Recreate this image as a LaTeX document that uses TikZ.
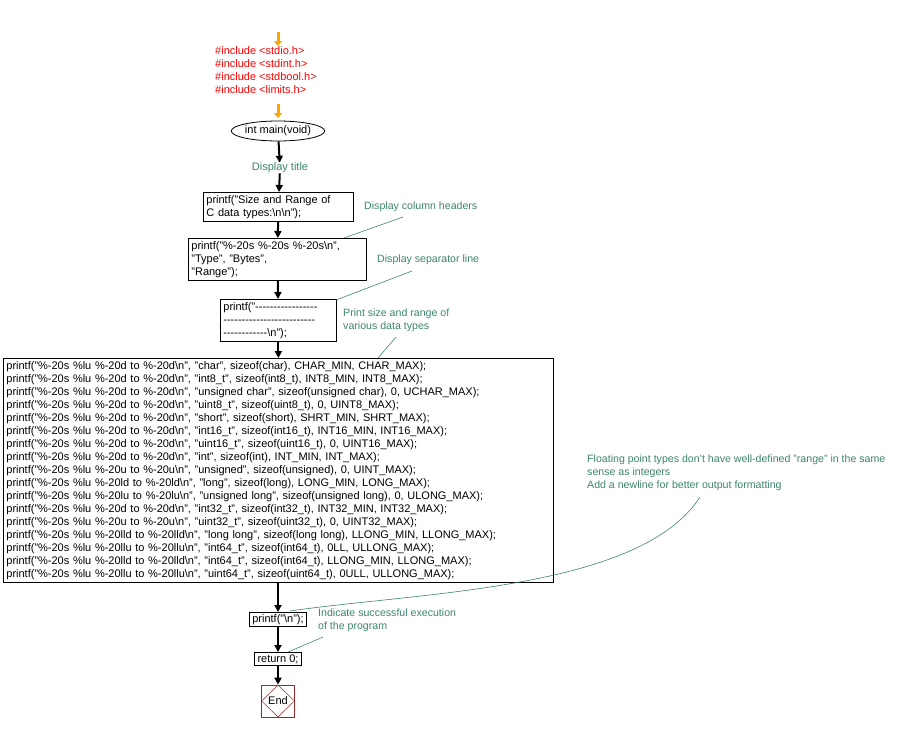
\documentclass[tikz,border=0pt]{standalone}
\usepackage{fontspec}
\setmainfont{Liberation Sans}
\usetikzlibrary{shapes.geometric,arrows.meta}
\definecolor{cm}{RGB}{61,133,108}
\definecolor{inc}{RGB}{255,0,0}
\definecolor{endc}{RGB}{160,40,40}
\definecolor{orng}{RGB}{255,165,0}
\newcommand{\hy}[1]{\foreach \i in {1,...,#1}{-{}}}
\begin{document}
\begin{tikzpicture}[x=1pt,y=-1pt,
  every node/.style={font=\fontsize{11}{13}\selectfont, inner sep=0pt},
  box/.style={draw, line width=0.8pt, align=left, inner xsep=3pt, inner ysep=3pt, anchor=north west},
  cmt/.style={text=cm, align=left, anchor=north west, font=\fontsize{10.6}{13}\selectfont},
  cl/.style={draw=cm, line width=0.6pt},
  ar/.style={line width=2pt, -{Triangle[width=7pt,length=7pt]}},
  oar/.style={draw=orng, line width=3pt, -{Triangle[width=8pt,length=5pt]}}]
\useasboundingbox (0,0) rectangle (916,732);
\coordinate (o1) at (278,32);
\coordinate (o1e) at (278,46);
\node[anchor=north west, text=inc, align=left] (inc) at (215,46) {\#include <stdio.h>\\\#include <stdint.h>\\\#include <stdbool.h>\\\#include <limits.h>};
\coordinate (o2) at (278,104);
\coordinate (o2e) at (278,118);
\node[draw, ellipse, line width=0.8pt, minimum width=90pt, minimum height=20pt, inner sep=0pt] (main) at (278,131) {int main(void)};
\node[text=cm] (t0) at (280,168) {Display title};
\node[box, text width=144pt] (b1) at (203,192) {printf("Size and Range of\\C data types:\textbackslash n\textbackslash n");};
\node[box, text width=172pt] (b2) at (188,238) {printf("\%-20s \%-20s \%-20s\textbackslash n",\\"Type", "Bytes",\\"Range");};
\node[box, text width=110pt] (b3) at (220,299) {printf("\hy{17}\\\hy{25}\\\hy{12}\textbackslash n");};
\node[box, text width=544pt, inner ysep=3pt] (b4) at (3,358) {%
printf("\%-20s \%lu \%-20d to \%-20d\textbackslash n", "char", sizeof(char), CHAR\_MIN, CHAR\_MAX);\\
printf("\%-20s \%lu \%-20d to \%-20d\textbackslash n", "int8\_t", sizeof(int8\_t), INT8\_MIN, INT8\_MAX);\\
printf("\%-20s \%lu \%-20d to \%-20d\textbackslash n", "unsigned char", sizeof(unsigned char), 0, UCHAR\_MAX);\\
printf("\%-20s \%lu \%-20d to \%-20d\textbackslash n", "uint8\_t", sizeof(uint8\_t), 0, UINT8\_MAX);\\
printf("\%-20s \%lu \%-20d to \%-20d\textbackslash n", "short", sizeof(short), SHRT\_MIN, SHRT\_MAX);\\
printf("\%-20s \%lu \%-20d to \%-20d\textbackslash n", "int16\_t", sizeof(int16\_t), INT16\_MIN, INT16\_MAX);\\
printf("\%-20s \%lu \%-20d to \%-20d\textbackslash n", "uint16\_t", sizeof(uint16\_t), 0, UINT16\_MAX);\\
printf("\%-20s \%lu \%-20d to \%-20d\textbackslash n", "int", sizeof(int), INT\_MIN, INT\_MAX);\\
printf("\%-20s \%lu \%-20u to \%-20u\textbackslash n", "unsigned", sizeof(unsigned), 0, UINT\_MAX);\\
printf("\%-20s \%lu \%-20ld to \%-20ld\textbackslash n", "long", sizeof(long), LONG\_MIN, LONG\_MAX);\\
printf("\%-20s \%lu \%-20lu to \%-20lu\textbackslash n", "unsigned long", sizeof(unsigned long), 0, ULONG\_MAX);\\
printf("\%-20s \%lu \%-20d to \%-20d\textbackslash n", "int32\_t", sizeof(int32\_t), INT32\_MIN, INT32\_MAX);\\
printf("\%-20s \%lu \%-20u to \%-20u\textbackslash n", "uint32\_t", sizeof(uint32\_t), 0, UINT32\_MAX);\\
printf("\%-20s \%lu \%-20lld to \%-20lld\textbackslash n", "long long", sizeof(long long), LLONG\_MIN, LLONG\_MAX);\\
printf("\%-20s \%lu \%-20llu to \%-20llu\textbackslash n", "int64\_t", sizeof(int64\_t), 0LL, ULLONG\_MAX);\\
printf("\%-20s \%lu \%-20lld to \%-20lld\textbackslash n", "int64\_t", sizeof(int64\_t), LLONG\_MIN, LLONG\_MAX);\\
printf("\%-20s \%lu \%-20llu to \%-20llu\textbackslash n", "uint64\_t", sizeof(uint64\_t), 0ULL, ULLONG\_MAX);};
\node[box, anchor=north, inner ysep=2pt] (b5) at (278,612) {printf("\textbackslash n");};
\node[box, anchor=north, inner ysep=2pt] (b6) at (278,652) {return 0;};
\node[draw=endc, line width=0.6pt, minimum width=33pt, minimum height=32pt] (endb) at (278,701) {};
\node[draw=endc, diamond, line width=0.5pt, minimum width=33pt, minimum height=32pt, inner sep=0pt] (end) at (278,701) {End};
% comments
\node[cmt] (c1) at (364,202) {Display column headers};
\node[cmt] (c2) at (377,255) {Display separator line};
\node[cmt] (c3) at (343,309) {Print size and range of\\various data types};
\node[cmt] (c4) at (587,455) {Floating point types don't have well-defined "range" in the same\\sense as integers\\Add a newline for better output formatting};
\node[cmt] (c5) at (318,609) {Indicate successful execution\\of the program};
% arrows
\draw[oar] (o1) -- (o1e);
\draw[oar] (o2) -- (o2e);
\draw[ar] (main) -- (t0);
\draw[ar] (t0) -- (b1);
\draw[ar] (b1) -- (b2);
\draw[ar] (b2) -- (b3);
\draw[ar] (b3) -- (b4.north -| b3);
\draw[ar] (b4.south -| b5) -- (b5);
\draw[ar] (b5) -- (b6);
\draw[ar] (b6) -- (endb);
% comment lines
\draw[cl] (344,238) -- (403,217);
\draw[cl] (336,300) -- (412,271);
\draw[cl] (378,358) -- (396,337);
\draw[cl] (290,611) .. controls (420,592) and (640,590) .. (700,497);
\draw[cl] (288,652) -- (323,637);
\end{tikzpicture}
\end{document}
